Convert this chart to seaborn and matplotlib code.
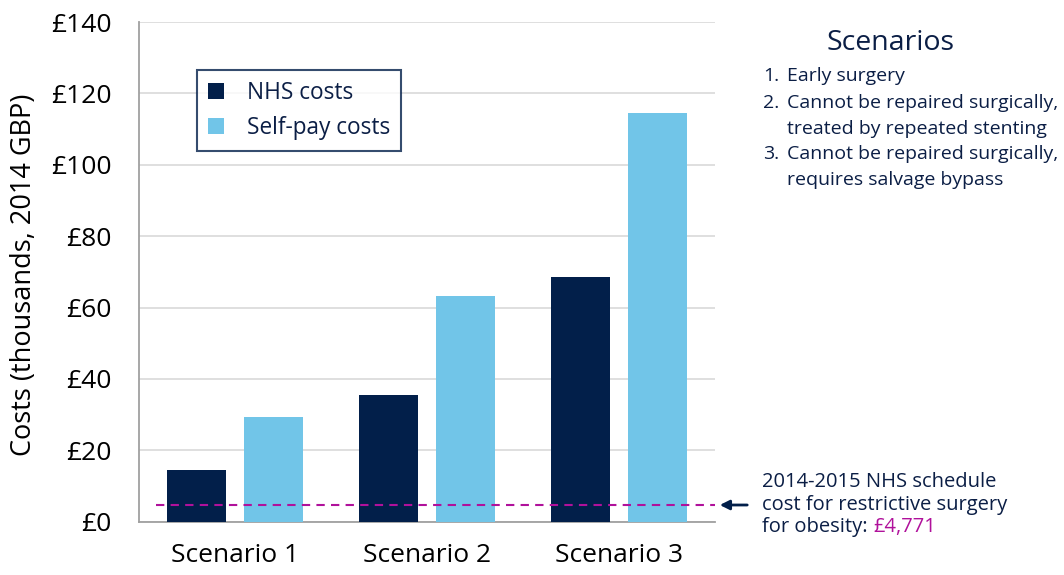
import matplotlib
matplotlib.use("Agg")
import matplotlib.pyplot as plt
import seaborn as sns
import pandas as pd

scenarios = ["Scenario 1", "Scenario 2", "Scenario 3"]
nhs_costs = [14.6, 35.4, 68.5]
self_pay_costs = [29.2, 63.3, 114.5]
series_names = ["NHS costs", "Self-pay costs"]
yticks = [0, 20, 40, 60, 80, 100, 120, 140]
ytick_labels = ["£0", "£20", "£40", "£60", "£80", "£100", "£120", "£140"]
threshold = 4.771
scenario_list = [["Early surgery"],
                 ["Cannot be repaired surgically,", "treated by repeated stenting"],
                 ["Cannot be repaired surgically,", "requires salvage bypass"]]
note_lines = ["2014-2015 NHS schedule", "cost for restrictive surgery", "for obesity: "]
note_value = "£4,771"

sns.set_theme(style="white")
plt.rcParams['font.family'] = ['Open Sans', 'DejaVu Sans']

NAVY = "#021F4A"
LIGHT = "#71C5E8"
MAGENTA = "#B0119B"
TEXT = "#0B1E45"

df = pd.DataFrame({
    "Scenario": scenarios * 2,
    "Series": [series_names[0]] * 3 + [series_names[1]] * 3,
    "Cost": nhs_costs + self_pay_costs,
})

W, H = 1064, 575
fig = plt.figure(figsize=(W / 100, H / 100), dpi=100)
ax = fig.add_axes([139 / W, 1 - 521.7 / H, (715 - 139) / W, (521.7 - 22) / H])

sns.barplot(data=df, x="Scenario", y="Cost", hue="Series",
            palette=[NAVY, LIGHT], width=0.8, gap=0.24, saturation=1,
            edgecolor="none", ax=ax, zorder=3)

ax.set_xlim(-0.5, 2.5)
ax.set_ylim(0, 140)
ax.set_yticks(yticks)
ax.set_yticklabels(ytick_labels)
ax.yaxis.grid(True, color="#D9D9D9", linewidth=1.2, zorder=0)
ax.set_axisbelow(True)
for s in ["top", "right"]:
    ax.spines[s].set_visible(False)
ax.spines["left"].set_color("#A0A0A0")
ax.spines["bottom"].set_color("#A0A0A0")
ax.spines["left"].set_linewidth(1.3)
ax.spines["bottom"].set_linewidth(1.3)
ax.tick_params(axis="y", length=0, labelsize=19, colors="black", pad=20)
ax.tick_params(axis="x", length=0, labelsize=19, colors="black", pad=15)
ax.set_xlabel("")
ax.set_ylabel("Costs (thousands, 2014 GBP)", fontsize=19.5, color="black")
ax.yaxis.set_label_coords((38 - 139) / 576, (521.7 - 275) / 499.7)

ax.axhline(threshold, xmin=0.03, xmax=1.0, color=MAGENTA, linestyle=(0, (4, 3)),
           linewidth=1.5, zorder=4)

leg = ax.legend(loc="upper left", bbox_to_anchor=((197 - 139) / 576, (521.7 - 70) / 499.7),
                borderaxespad=0, frameon=True, fancybox=False, fontsize=16.3,
                handlelength=0.7, handleheight=0.7, handletextpad=1.0,
                borderpad=0.5, labelspacing=0.45, title=None)
leg.get_frame().set_edgecolor(NAVY)
leg.get_frame().set_linewidth(1.5)
for t in leg.get_texts():
    t.set_color(TEXT)

def fx(px):
    return px / W

def fy(py):
    return 1 - py / H

fig.text(fx(890), fy(43), "Scenarios", fontsize=20.5, color=TEXT, ha="center", va="center")
line_ys = [76, 103, 129, 154, 180]
k = 0
for i, item in enumerate(scenario_list):
    fig.text(fx(779), fy(line_ys[k]), f"{i + 1}.", fontsize=14, color=TEXT,
             ha="right", va="center")
    for line in item:
        fig.text(fx(787), fy(line_ys[k]), line, fontsize=14, color=TEXT,
                 ha="left", va="center")
        k += 1

note_ys = [482, 505, 527]
last = None
for line, y in zip(note_lines, note_ys):
    last = fig.text(fx(762), fy(y), line, fontsize=14.5, color=TEXT, ha="left", va="center")
fig.canvas.draw()
bb = last.get_window_extent()
fig.text(bb.x1 / W, fy(note_ys[-1]), note_value, fontsize=14.5, color=MAGENTA,
         ha="left", va="center")

ax.annotate("", xy=(717, 575 - 505), xycoords="figure pixels",
            xytext=(750, 575 - 505), textcoords="figure pixels",
            arrowprops=dict(arrowstyle="-|>", color=NAVY, lw=2, mutation_scale=14))

fig.savefig("out.png", dpi=100)
